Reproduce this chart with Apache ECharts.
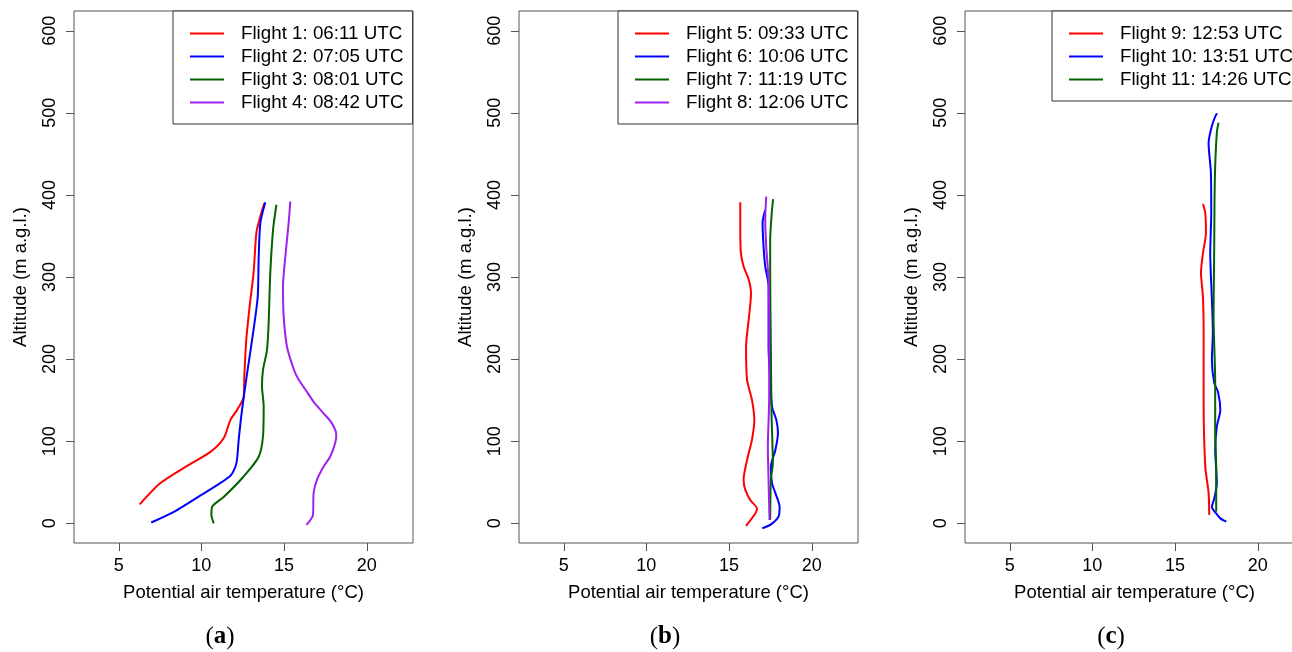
<!DOCTYPE html>
<html>
<head>
<meta charset="utf-8">
<title>Flight profiles</title>
<script src="https://cdn.jsdelivr.net/npm/echarts@6/dist/echarts.min.js"></script>
<style>
body{margin:0;background:#fff;}
#chart{width:1292px;height:652px;}
</style>
</head>
<body>
<div id="chart"></div>
<script>
// flight labels
var names = ['Flight 1: 06:11 UTC', 'Flight 2: 07:05 UTC', 'Flight 3: 08:01 UTC', 'Flight 4: 08:42 UTC',
             'Flight 5: 09:33 UTC', 'Flight 6: 10:06 UTC', 'Flight 7: 11:19 UTC', 'Flight 8: 12:06 UTC',
             'Flight 9: 12:53 UTC', 'Flight 10: 13:51 UTC', 'Flight 11: 14:26 UTC'];
var panelOf = [0, 0, 0, 0, 1, 1, 1, 1, 2, 2, 2];
var panelTags = ['a', 'b', 'c'];
var xTicks = [5, 10, 15, 20];
var yTicks = [0, 100, 200, 300, 400, 500, 600];
var xMin = 2.3, xMax = 22.8, yMin = -24, yMax = 624;

// potential temperature (°C) and altitude (m)
var f1T = [6.27, 7.53, 9.14, 10.55, 11.36, 11.76, 12.16, 12.56, 12.6, 12.72, 12.92, 13.16, 13.33, 13.57, 13.81];
var f1A = [23, 49, 70, 87, 104, 126, 138, 154, 179, 224, 264, 305, 354, 374, 390];
var f2T = [6.97, 8.34, 9.95, 11.76, 12.12, 12.26, 12.46, 12.77, 13.16, 13.41, 13.47, 13.57, 13.87];
var f2A = [1, 14, 34, 58, 73, 102, 138, 183, 236, 276, 325, 366, 391];
var f3T = [10.75, 10.61, 10.65, 11.35, 12.56, 13.47, 13.73, 13.77, 13.67, 13.73, 13.97, 14.07, 14.17, 14.34, 14.54];
var f3A = [0, 10, 20, 32, 57, 81, 106, 142, 167, 187, 211, 244, 305, 358, 388];
var f4T = [16.35, 16.75, 16.79, 16.99, 17.39, 17.79, 18.1, 18.16, 17.89, 17.39, 16.79, 16.29, 15.88, 15.6, 15.18, 14.98, 14.94, 15.08, 15.28, 15.38];
var f4A = [-2, 10, 37, 53, 69, 81, 98, 108, 122, 134, 148, 163, 175, 187, 215, 252, 289, 325, 366, 392];
var f5T = [16.03, 16.59, 16.69, 16.29, 15.98, 15.88, 16.09, 16.39, 16.53, 16.39, 16.09, 16.03, 16.19, 16.33, 16.19, 15.88, 15.72, 15.68, 15.68];
var f5A = [-3, 12, 18, 28, 41, 53, 77, 102, 126, 150, 175, 215, 248, 280, 297, 313, 329, 358, 391];
var f6T = [17.01, 17.49, 17.99, 18.06, 17.8, 17.6, 17.53, 17.8, 17.96, 17.86, 17.6, 17.49, 17.39, 17.39, 17.39, 17.19, 17.09, 17.03, 17.19];
var f6A = [-6, -2, 8, 20, 37, 49, 69, 89, 110, 126, 142, 175, 215, 256, 289, 313, 337, 366, 382];
var f7T = [17.49, 17.53, 17.65, 17.57, 17.53, 17.49, 17.49, 17.6, 17.67];
var f7A = [4, 53, 73, 134, 215, 297, 345, 382, 395];
var f8T = [17.45, 17.39, 17.35, 17.43, 17.43, 17.39, 17.25, 17.19, 17.25];
var f8A = [4, 53, 93, 154, 236, 297, 337, 370, 398];
var f9T = [17.07, 17.03, 16.83, 16.73, 16.73, 16.69, 16.57, 16.69, 16.87, 16.83, 16.69];
var f9A = [10, 37, 69, 150, 232, 276, 305, 329, 354, 378, 389];
var f10T = [18.1, 17.74, 17.49, 17.23, 17.37, 17.53, 17.43, 17.53, 17.74, 17.6, 17.37, 17.23, 17.29, 17.23, 17.13, 17.19, 17.17, 17.03, 17.23, 17.49, 17.57];
var f10A = [2, 6, 12, 20, 30, 49, 89, 118, 138, 160, 171, 199, 232, 272, 329, 378, 427, 463, 484, 498, 499];
var f11T = [17.49, 17.49, 17.43, 17.43, 17.33, 17.37, 17.39, 17.43, 17.53, 17.63];
var f11A = [14, 69, 110, 171, 252, 333, 394, 435, 476, 488];

var profiles = [[f1T, f1A], [f2T, f2A], [f3T, f3A], [f4T, f4A], [f5T, f5A], [f6T, f6A],
                [f7T, f7A], [f8T, f8A], [f9T, f9A], [f10T, f10A], [f11T, f11A]];

var lineColors = ['#ff0000', '#0000ff', '#006400', '#a020f0'];
var font = 'Liberation Sans, Arial, sans-serif';
var gridLeft = [74, 519, 965];
var legendLeft = [173, 618, 1052];

var grids = [], xAxes = [], yAxes = [], legends = [], series = [], texts = [];

for (var p = 0; p < 3; p++) {
    grids.push({left: gridLeft[p], top: 11, width: 339, height: 532,
        outerBoundsMode: 'none', show: true, borderColor: '#555', borderWidth: 1});
    xAxes.push({
        type: 'value', gridIndex: p, min: xMin, max: xMax, position: 'bottom', offset: 8,
        name: 'Potential air temperature (°C)', nameLocation: 'middle', nameGap: 32,
        nameTextStyle: {fontFamily: font, fontSize: 18.5, color: '#000'},
        axisLine: {show: false, onZero: false},
        axisTick: {show: false},
        axisLabel: {fontFamily: font, fontSize: 18, color: '#000', margin: 6, customValues: xTicks},
        splitLine: {show: false}
    });
    yAxes.push({
        type: 'value', gridIndex: p, min: yMin, max: yMax, position: 'left', offset: 8,
        name: 'Altitude (m a.g.l.)', nameLocation: 'middle', nameGap: 36,
        nameTextStyle: {fontFamily: font, fontSize: 18.5, color: '#000'},
        axisLine: {show: false, onZero: false},
        axisTick: {show: false},
        axisLabel: {fontFamily: font, fontSize: 18, color: '#000', rotate: 90, margin: 7, customValues: yTicks},
        splitLine: {show: false}
    });
    texts.push({
        type: 'text', x: gridLeft[p] + 146, y: 637,
        style: {
            text: '{p|(}{b|' + panelTags[p] + '}{p|)}',
            align: 'center', verticalAlign: 'middle',
            rich: {
                p: {fontFamily: 'Liberation Serif, serif', fontSize: 25, fill: '#000'},
                b: {fontFamily: 'Liberation Serif, serif', fontSize: 25, fontWeight: 'bold', fill: '#000'}
            }
        }
    });
    // outside ticks, placed through the axis scales
    series.push({
        type: 'custom', xAxisIndex: p, yAxisIndex: p, silent: true, clip: false, z: 5,
        data: xTicks.map(function (v) { return [v, yMin]; }),
        renderItem: function (params, api) {
            var pt = api.coord([api.value(0), api.value(1)]);
            var x = Math.round(pt[0]) + 0.5, y = Math.round(pt[1]);
            return {type: 'line', shape: {x1: x, y1: y, x2: x, y2: y + 8}, style: {stroke: '#555', lineWidth: 1}};
        }
    });
    series.push({
        type: 'custom', xAxisIndex: p, yAxisIndex: p, silent: true, clip: false, z: 5,
        data: yTicks.map(function (v) { return [xMin, v]; }),
        renderItem: function (params, api) {
            var pt = api.coord([api.value(0), api.value(1)]);
            var x = Math.round(pt[0]), y = Math.round(pt[1]) + 0.5;
            return {type: 'line', shape: {x1: x - 8, y1: y, x2: x, y2: y}, style: {stroke: '#555', lineWidth: 1}};
        }
    });
}

var k = 0;
for (var i = 0; i < profiles.length; i++) {
    var p = panelOf[i];
    if (i > 0 && panelOf[i - 1] !== p) k = 0;
    var t = profiles[i][0], a = profiles[i][1];
    var pts = t.map(function (v, j) { return [v, a[j]]; });
    series.push({
        name: names[i], type: 'line', xAxisIndex: p, yAxisIndex: p,
        data: pts, showSymbol: false, smooth: 0.25,
        lineStyle: {color: lineColors[k], width: 2},
        itemStyle: {color: lineColors[k]}
    });
    k++;
}

for (var p = 0; p < 3; p++) {
    legends.push({
        orient: 'vertical', left: legendLeft[p], top: 11,
        data: names.filter(function (n, i) { return panelOf[i] === p; }),
        icon: 'rect', itemWidth: 34, itemHeight: 2, itemGap: 4,
        padding: [13, 9, 12, 17],
        borderColor: '#333', borderWidth: 1, backgroundColor: '#fff',
        selectedMode: false,
        textStyle: {fontFamily: font, fontSize: 18.75, lineHeight: 19, color: '#000', padding: [0, 0, 0, 12]}
    });
}

var myChart = echarts.init(document.getElementById('chart'));
myChart.setOption({
    backgroundColor: '#fff',
    animation: false,
    grid: grids,
    xAxis: xAxes,
    yAxis: yAxes,
    legend: legends,
    series: series,
    graphic: texts
});
</script>
</body>
</html>
